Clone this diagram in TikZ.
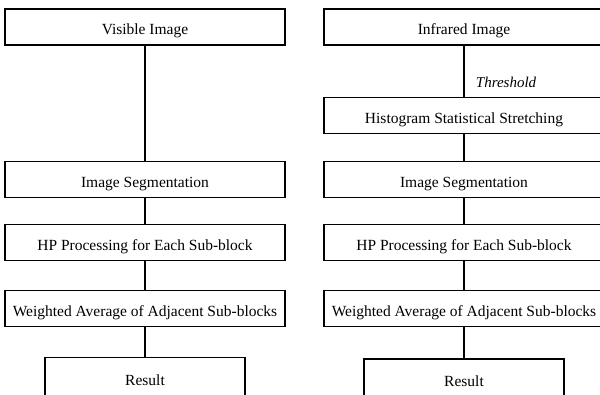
\documentclass[tikz,border=0pt]{standalone}
\usepackage{fontspec}
\setmainfont{Liberation Serif}
\usetikzlibrary{positioning}
\def\BoxWidth{280pt}
\def\BoxHeight{36pt}

\begin{document}
\begin{tikzpicture}[x=1pt,y=-1pt,
		box/.style={draw,line width=1.2pt,minimum width=\BoxWidth,minimum height=\BoxHeight,inner sep=0pt,text height=16pt,text depth=0pt,font=\fontsize{15.5}{18}\selectfont},
		resbox/.style={box,minimum width=200pt,minimum height=40pt},
		link/.style={line width=1.2pt}]
	\useasboundingbox (0,0) rectangle (600,395);
	% visible branch
	\node[box] (vis) at (145,27) {Visible Image};
	\node[box,below=115pt of vis] (seg1) {Image Segmentation};
	\node[box,below=26pt of seg1] (hp1) {HP Processing for Each Sub-block};
	\node[box,below=29pt of hp1] (avg1) {Weighted Average of Adjacent Sub-blocks};
	\node[resbox,below=30pt of avg1] (res1) {Result};
	% 
	% infrared branch
	\node[box] (inf) at (464,27) {Infrared Image};
	\node[box,below=51pt of inf] (hist) {Histogram Statistical Stretching};
	\node[box,below=27pt of hist] (seg2) {Image Segmentation};
	\node[box,below=26pt of seg2] (hp2) {HP Processing for Each Sub-block};
	\node[box,below=29pt of hp2] (avg2) {Weighted Average of Adjacent Sub-blocks};
	\node[resbox,below=31pt of avg2] (res2) {Result};
	% 
	\draw[link] (vis) -- (seg1) -- (hp1) -- (avg1) -- (res1);
	\draw[link] (inf) -- node[pos=0.73,right=8pt,font=\fontsize{15}{18}\selectfont\itshape] {Threshold} (hist);
	\draw[link] (hist) -- (seg2) -- (hp2) -- (avg2) -- (res2);
\end{tikzpicture}
\end{document}
